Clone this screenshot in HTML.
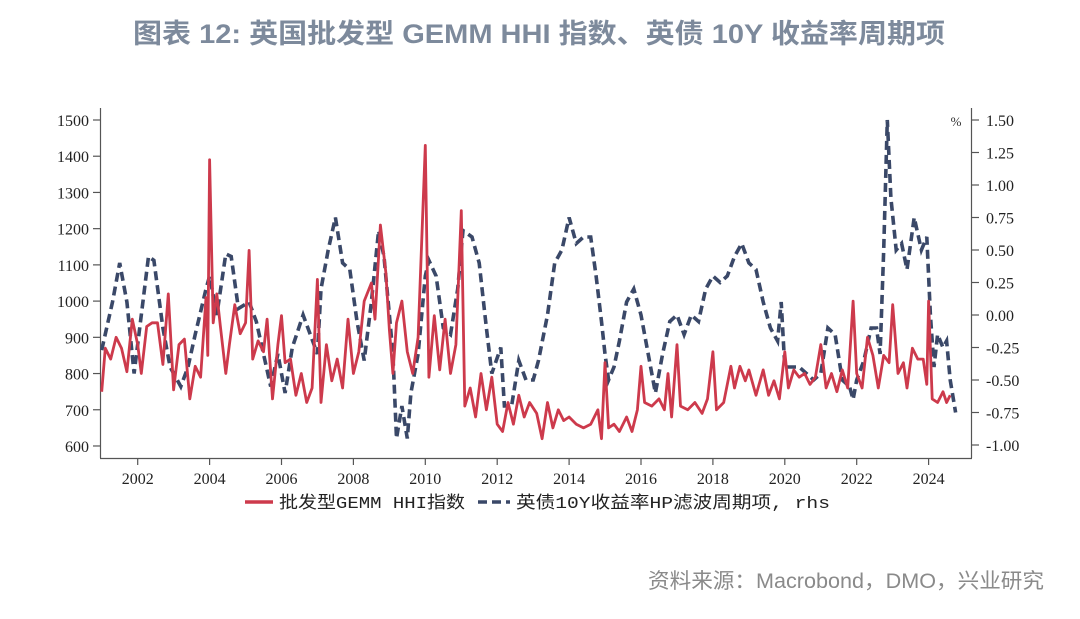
<!DOCTYPE html>
<html><head><meta charset="utf-8"><style>
html,body{margin:0;padding:0;background:#fff;width:1080px;height:619px;overflow:hidden}
svg{display:block}
</style></head><body>
<svg id="s" width="1080" height="619" xmlns="http://www.w3.org/2000/svg">
<text x="133" y="43" textLength="812" lengthAdjust="spacingAndGlyphs" font-family="'Liberation Sans','Noto Sans CJK SC',sans-serif" font-size="27" font-weight="bold" fill="#7d8a9c">图表 12: 英国批发型 GEMM HHI 指数、英债 10Y 收益率周期项</text>
<g stroke="#555" stroke-width="1.2" fill="none">
<line x1="100.5" y1="108" x2="100.5" y2="458"/>
<line x1="971.5" y1="108" x2="971.5" y2="458"/>
<line x1="100" y1="458.5" x2="972" y2="458.5"/>
</g>
<g id="ticks" stroke="#555" stroke-width="1.2"></g>
<g id="labels" font-family="'Liberation Serif',serif" font-size="16" fill="#222"></g>
<text x="956" y="126" font-family="'Liberation Serif',serif" font-size="13" fill="#333" text-anchor="middle">%</text>
<path id="blue" fill="none" stroke="#3a4868" stroke-width="3.6" stroke-dasharray="9,5"/>
<path id="red" fill="none" stroke="#cd3a4c" stroke-width="2.8" stroke-linejoin="round"/>
<line x1="245" y1="502" x2="273" y2="502" stroke="#cd3a4c" stroke-width="3.5"/>
<text x="279" y="508" textLength="186" lengthAdjust="spacingAndGlyphs" font-family="'Liberation Mono','Noto Sans CJK SC',monospace" font-size="17" fill="#222">批发型GEMM HHI指数</text>
<line x1="478" y1="502" x2="510" y2="502" stroke="#3a4868" stroke-width="3.6" stroke-dasharray="9,5"/>
<text x="516" y="508" textLength="314" lengthAdjust="spacingAndGlyphs" font-family="'Liberation Mono','Noto Sans CJK SC',monospace" font-size="17" fill="#222">英债10Y收益率HP滤波周期项, rhs</text>
<text x="648" y="588" textLength="396" lengthAdjust="spacingAndGlyphs" font-family="'Liberation Sans','Noto Sans CJK SC',sans-serif" font-size="21" fill="#8a8a8a">资料来源：Macrobond，DMO，兴业研究</text>
</svg>
<script>
var X=function(y){return 137.7+(y-2002)*35.95;};
var YL=function(v){return 120+(1500-v)*0.3622;};
var YR=function(v){return 120+(1.5-v)*130;};
var t=document.getElementById('ticks'),l=document.getElementById('labels'),ns='http://www.w3.org/2000/svg';
function el(p,n,a,txt){var e=document.createElementNS(ns,n);for(var k in a)e.setAttribute(k,a[k]);if(txt)e.textContent=txt;p.appendChild(e);}
for(var v=600;v<=1500;v+=100){var y=YL(v);el(t,'line',{x1:93,x2:100,y1:y,y2:y});el(l,'text',{x:89,y:y+6,'text-anchor':'end'},''+v);}
for(var i=0;i<=10;i++){var v=-1+i*0.25,y=YR(v);el(t,'line',{x1:972,x2:979,y1:y,y2:y});el(l,'text',{x:986,y:y+6},(v<0?'-':'')+Math.abs(v).toFixed(2));}
for(var yr=2002;yr<=2024;yr+=2){var x=X(yr);el(t,'line',{x1:x,x2:x,y1:458,y2:465});el(l,'text',{x:x,y:484,'text-anchor':'middle'},''+yr);}
var red=[2001.0,750,2001.1,870,2001.25,840,2001.4,900,2001.55,870,2001.7,805,2001.85,950,2002.0,880,2002.1,800,2002.25,930,2002.4,940,2002.55,940,2002.7,825,2002.85,1020,2003.0,755,2003.15,880,2003.3,895,2003.45,730,2003.6,820,2003.75,790,2003.9,1010,2003.95,850,2004.0,1390,2004.1,940,2004.2,1020,2004.3,930,2004.45,800,2004.55,880,2004.7,990,2004.85,910,2005.0,940,2005.1,1140,2005.2,840,2005.35,890,2005.5,860,2005.6,950,2005.75,730,2005.9,880,2006.0,960,2006.1,830,2006.25,840,2006.4,740,2006.55,800,2006.7,720,2006.85,760,2007.0,1060,2007.1,720,2007.25,880,2007.4,780,2007.55,840,2007.7,760,2007.85,950,2008.0,800,2008.15,860,2008.3,1000,2008.5,1050,2008.6,950,2008.75,1210,2008.9,1080,2009.0,920,2009.1,800,2009.2,940,2009.35,1000,2009.5,860,2009.65,800,2009.8,900,2010.0,1430,2010.1,790,2010.25,960,2010.4,810,2010.55,950,2010.7,800,2010.85,880,2011.0,1250,2011.1,710,2011.25,760,2011.4,680,2011.55,800,2011.7,700,2011.85,790,2012.0,660,2012.15,640,2012.3,720,2012.45,660,2012.6,740,2012.75,680,2012.9,720,2013.1,690,2013.25,620,2013.4,720,2013.55,650,2013.7,700,2013.85,670,2014.0,680,2014.2,660,2014.4,650,2014.6,660,2014.8,700,2014.9,620,2015.0,830,2015.1,650,2015.25,660,2015.4,640,2015.6,680,2015.75,640,2015.9,700,2016.0,820,2016.1,720,2016.3,710,2016.5,730,2016.65,700,2016.75,800,2016.85,680,2017.0,880,2017.1,710,2017.3,700,2017.5,720,2017.7,690,2017.85,730,2018.0,860,2018.1,700,2018.3,720,2018.5,820,2018.6,760,2018.75,820,2018.9,780,2019.0,810,2019.2,740,2019.4,810,2019.55,740,2019.7,780,2019.85,730,2020.0,860,2020.1,760,2020.25,810,2020.4,790,2020.55,800,2020.7,770,2020.85,790,2021.0,880,2021.15,760,2021.3,800,2021.45,750,2021.6,810,2021.75,760,2021.9,1000,2022.0,800,2022.15,760,2022.3,900,2022.45,850,2022.6,760,2022.75,850,2022.9,830,2023.0,990,2023.15,800,2023.3,830,2023.4,760,2023.55,870,2023.7,840,2023.85,840,2023.95,770,2024.0,1000,2024.1,730,2024.25,720,2024.4,750,2024.5,720,2024.6,740];
var blue=[2001.0,-0.27,2001.3,0.1,2001.5,0.4,2001.7,0.1,2001.9,-0.45,2002.1,0.0,2002.3,0.45,2002.45,0.42,2002.7,-0.1,2002.9,-0.4,2003.2,-0.55,2003.4,-0.4,2003.6,-0.15,2003.9,0.2,2004.0,0.3,2004.2,0.0,2004.45,0.47,2004.6,0.45,2004.8,0.05,2005.1,0.1,2005.3,-0.05,2005.5,-0.3,2005.7,-0.55,2005.9,-0.3,2006.1,-0.6,2006.3,-0.25,2006.6,0.0,2006.8,-0.15,2007.0,-0.3,2007.1,0.2,2007.3,0.5,2007.5,0.75,2007.7,0.4,2007.9,0.35,2008.1,-0.05,2008.3,-0.35,2008.5,0.1,2008.7,0.65,2008.85,0.45,2009.0,0.0,2009.1,-0.3,2009.2,-0.95,2009.35,-0.7,2009.5,-0.95,2009.6,-0.6,2009.8,-0.3,2010.0,0.3,2010.1,0.42,2010.3,0.3,2010.5,-0.1,2010.7,-0.15,2010.9,0.2,2011.05,0.65,2011.3,0.6,2011.5,0.4,2011.7,-0.1,2011.85,-0.45,2012.1,-0.25,2012.2,-0.7,2012.4,-0.7,2012.6,-0.35,2012.8,-0.5,2013.0,-0.5,2013.15,-0.35,2013.4,0.0,2013.6,0.4,2013.8,0.5,2014.0,0.75,2014.2,0.55,2014.4,0.6,2014.6,0.6,2014.75,0.3,2014.9,-0.05,2015.0,-0.3,2015.1,-0.5,2015.25,-0.4,2015.4,-0.2,2015.6,0.1,2015.8,0.2,2016.0,0.0,2016.2,-0.3,2016.4,-0.6,2016.6,-0.3,2016.8,-0.05,2017.0,0.0,2017.2,-0.15,2017.4,0.0,2017.6,-0.05,2017.8,0.2,2018.0,0.3,2018.2,0.25,2018.4,0.3,2018.6,0.45,2018.8,0.55,2019.0,0.4,2019.2,0.35,2019.4,0.1,2019.6,-0.1,2019.8,-0.2,2019.9,0.1,2020.0,-0.4,2020.2,-0.4,2020.4,-0.4,2020.6,-0.45,2020.8,-0.5,2021.0,-0.45,2021.2,-0.1,2021.4,-0.15,2021.6,-0.5,2021.8,-0.55,2021.9,-0.65,2022.0,-0.5,2022.2,-0.35,2022.4,-0.1,2022.55,-0.1,2022.65,-0.3,2022.75,0.5,2022.85,1.5,2022.95,0.9,2023.1,0.5,2023.25,0.55,2023.4,0.35,2023.6,0.75,2023.8,0.5,2023.95,0.6,2024.05,0.0,2024.15,-0.4,2024.25,-0.15,2024.4,-0.25,2024.5,-0.2,2024.6,-0.5,2024.75,-0.75];
function path(a,f){var d='';for(var i=0;i<a.length;i+=2)d+=(i?'L':'M')+X(a[i]).toFixed(1)+','+f(a[i+1]).toFixed(1);return d;}
document.getElementById('red').setAttribute('d',path(red,YL));
document.getElementById('blue').setAttribute('d',path(blue,YR));
</script>
</body></html>
